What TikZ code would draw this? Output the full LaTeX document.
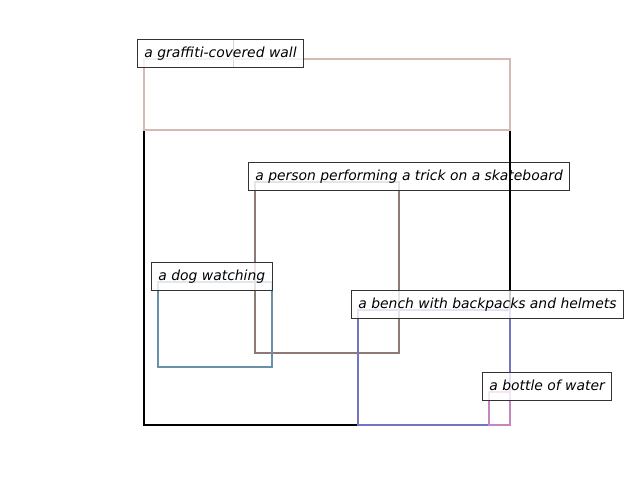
\documentclass[tikz,border=0pt]{standalone}
\usepackage{fontspec}
\setmainfont{DejaVu Sans}
\definecolor{cwall}{RGB}{212,186,178}
\definecolor{cperson}{RGB}{142,122,116}
\definecolor{cdog}{RGB}{104,144,170}
\definecolor{cbench}{RGB}{116,116,198}
\definecolor{cbottle}{RGB}{200,132,190}
\begin{document}
\begin{tikzpicture}[x=0.72pt,y=-0.72pt,
  bbox/.style={line width=1.6pt},
  lbl/.style={draw=black!80,line width=0.75pt,fill=white,fill opacity=0.8,text opacity=1,
    font=\itshape\fontsize{10}{12}\selectfont,inner xsep=5pt,inner ysep=0pt,
    text height=8.6pt,text depth=2.2pt,
    minimum height=20.16pt,anchor=south west}]
\useasboundingbox (0,0) rectangle (640,480);
% person
\draw[bbox,cperson] (255,182) rectangle (399,353);
\node[lbl] (lperson) at (248,191) {a person performing a trick on a skateboard};
% whole scene
\draw[bbox,black] (144,59) rectangle (510,425);
\node[lbl,minimum width=69.12pt] (lscene) at (137,68) {};
% wall
\draw[bbox,cwall] (144,59) rectangle (510,130);
\node[lbl] (lwall) at (137,68) {a graffiti-covered wall};
% dog
\draw[bbox,cdog] (158,282) rectangle (272,367);
\node[lbl] (ldog) at (151,291) {a dog watching};
% bench
\draw[bbox,cbench] (358,310) rectangle (510,425);
\node[lbl] (lbench) at (351,319) {a bench with backpacks and helmets};
% bottle
\draw[bbox,cbottle] (489,392) rectangle (510,425);
\node[lbl] (lbottle) at (482,401) {a bottle of water};
\end{tikzpicture}
\end{document}
